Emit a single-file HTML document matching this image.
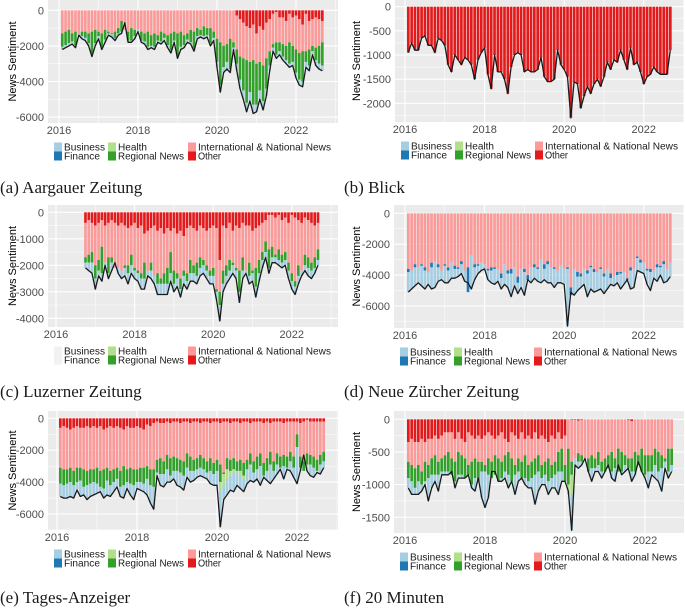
<!DOCTYPE html>
<html><head><meta charset="utf-8"><style>
body{margin:0;background:#fff;width:685px;height:608px;overflow:hidden}
svg{display:block;font-family:"Liberation Sans",sans-serif}
</style></head><body>
<svg id="fig" width="685" height="608" viewBox="0 0 685 608" xmlns="http://www.w3.org/2000/svg"></svg>
<script>
// ---------- Panel (a) Aargauer Zeitung : Feb 2016 - Sep 2022 ----------
const aOtherEnd=[0,0,0,0,0,0,0,0,0,0,0, 0,0,0,0,0,0,0,0,0,0,0,0, 0,0,0,0,0,0,0,0,0,0,0,0, 0,0,0,0,0,0,0,0,0,0,0,0, 0,0,0,0,0,0,300,500,700,900,1000,800, 1300,900,1100,700,500,200,100,400,400,600,200,400, 300,500,800,200,600,500,400,500,600];
const aIntlEnd=[1300,1200,1100,1300,1200,1300,1200,1200,1300,1200,1100, 1200,1300,1100,1200,1300,1200,1000,600,1100,1200,1000,1100, 1100,1200,1300,1200,1400,1300,1400,1200,1300,1400,1300,1200, 1300,1200,1400,1300,1100,1200,1000,1100,900,1000,1000,1200, 1600,1800,2000,1900,1600,1800,2200,2600,2700,2800,2900,2800, 3000,2900,3100,2700,2300,1900,1800,1800,1900,2000,1800,2000, 2200,2400,2300,2300,2200,2000,2100,2000,1800];
const aRegionalEnd=[2050,1950,1850,1750,1950,1300,1450,1550,1850,2450,1850, 1450,2050,1650,1300,1350,1550,1300,1200,650,1700,1700,1450, 1100,1700,1750,2050,2000,2050,1700,1750,1550,1950,2250,1700, 2550,2050,1950,1650,1800,2150,1450,1400,1450,1400,1850,1550, 2900,4200,3200,2900,3300,2100,3000,3900,4500,5200,4600,5300, 5300,4500,5100,4400,3100,2100,2500,2300,2600,2800,3000,2900, 3500,3900,4000,2900,3100,2300,2800,3000,3100];
const aTotal=[2200,2100,2000,1900,2100,1400,1600,1700,2000,2600,2000, 1600,2200,1800,1400,1500,1700,1400,1300,700,1800,1800,1600, 1200,1800,1900,2200,2100,2200,1800,1900,1700,2100,2400,1800, 2700,2200,2100,1800,1900,2300,1600,1500,1600,1500,2000,1700, 3200,4600,3500,3300,3500,2200,3400,4400,5000,5700,5100,5800, 5700,5000,5600,4800,3400,2300,2700,2500,2800,3000,3200,3100, 3800,4200,4300,3200,3400,2500,3100,3300,3400];
// ---------- Panel (b) Blick ----------
const bTotal=[950,750,900,900,650,600,800,800,950,650,700, 800,1200,1350,1000,1100,1200,1050,1100,1200,1500,1100,950, 850,1400,1700,1000,1350,1350,1500,1800,1250,1000,950,1000, 1350,1300,1350,1350,1300,1050,1450,1550,1550,1500,900,1200, 1300,1450,2300,1550,1600,2100,1850,1650,1800,1600,1500,1650, 1450,1150,1300,1100,1150,900,1100,1300,850,1200,1150,1350, 1600,1450,1400,1250,1350,1400,1400,1400,900];
// ---------- Panel (c) Luzerner Zeitung : Oct 2016 - Sep 2022 ----------
const cOtherEnd=[400,300,400, 500,400,300,500,400,300,400,500,400,500,600,500, 400,600,500,800,700,600,500,700,600,800,600,700, 600,800,700,900,600,500,600,700,500,600,700,600, 500,600,1800,500,600,400,700,500,600,400,500,500, 700,600,500,400,300,100,100,200,100,300,200,400, 100,200,300,400,200,300,400,500,400];
const cIntlEnd=[1700,1600,1500, 2000,1800,1300,1900,1700,1700,2100,2100,2200,2000,2000,1600, 2100,2200,2300,1900,2200,1900,2400,2300,2500,2300,2100,1500, 2200,2300,2500,2200,2300,1800,2000,1900,1700,1800,2000,2200, 2100,2900,3000,2200,2000,1800,1900,2100,2200,1700,2200,1900, 2200,2100,1800,1500,1100,1400,1300,1600,1400,1600,1500,1900, 2300,2600,2000,2200,1600,1700,1900,1700,1400];
const cRegionalEnd=[1900,1900,1900, 2500,2200,2300,1900,2300,1900,1800,2100,2200,2100,2300,2000, 2200,2300,2500,2500,2100,2200,2300,2700,2700,2700,2700,2300, 2700,2500,2900,2400,2600,2300,2300,2400,2100,2000,2200,2400, 2400,3000,3500,2700,2400,2200,2000,2200,3000,2200,2000,2400, 2300,2800,2300,1800,1500,2100,1700,1700,1800,1900,1800,2200, 2600,2800,2400,2200,2000,2100,2200,2100,1800];
const cTotal=[2100,2200,2300, 2900,2400,2600,2000,2500,2200,1900,2300,2500,2400,2700,2300, 2500,2600,2900,2900,2400,2500,2700,3100,3100,3100,3100,2600, 3000,2800,3200,2700,2900,2600,2600,2700,2400,2300,2500,2700, 2700,3300,4100,3000,2700,2500,2300,2500,3400,2500,2300,2700, 2600,3200,2600,2100,1700,2300,1900,1900,2000,2100,2000,2500, 2900,3100,2700,2400,2200,2400,2500,2300,2000];
// ---------- Panel (d) Neue Zürcher Zeitung ----------
const dIntlEnd=[3600,3700,3300,3500,3300,3500,3800,3200,3100,3300,3700, 3300,3500,3200,3400,3500,3100,3700,3500,2700,3300,3300,3200, 3300,3600,3500,3500,3600,3900,3300,3700,3600,3500,4100,3600, 3600,4000,3500,3300,3500,3000,3300,3100,3500,3500,3700,3400, 3600,3500,4800,3600,3800,3900,3600,3700,3400,3600,3800,3500, 3900,3600,3900,4100,3800,3800,3800,4200,3500,3600,2800,3000, 3200,3600,3600,3700,3300,3400,3100,3600,3200];
const dFinance=[200,0,200,0,100,200,0,300,0,200,0, 100,200,0,200,100,200,0,1600,0,200,100,0, 0,100,200,100,0,300,0,200,300,0,400,0, 200,300,0,200,100,0,300,200,0,100,0,0, 0,100,500,0,300,200,0,200,100,200,0,100, 200,0,300,0,200,100,0,100,200,0,100,200, 0,100,200,0,200,100,200,0,0];
const dTotal=[5100,4900,4700,4500,4700,4900,4600,4900,4800,4400,4300, 4500,4500,4200,4200,4100,3900,4400,4500,4900,4300,3900,3700, 3600,4300,4500,4600,4400,4900,4600,4800,5400,4700,5200,4800, 5300,4300,4500,4200,4400,4500,4300,4500,4500,4800,4500,4500, 4600,7300,5100,5300,5000,4800,4600,5400,4900,5100,5000,4900, 5200,4900,4600,4700,4500,4900,4600,4300,4900,4800,3700,3800, 3900,4600,5000,4200,4400,4000,4500,4400,4100];
// ---------- Panel (e) Tages-Anzeiger ----------
const eOtherEnd=[600,500,600,700,600,500,600,600,500,600,500, 600,500,700,600,500,600,500,600,700,500,600,600, 500,600,700,400,500,300,200,300,300,200,300,200, 200,300,200,200,300,200,200,300,200,200,300,200, 200,300,200,200,300,200,200,300,200,200,300,200, 200,200,300,200,300,200,200,200,300,200,200,200, 200,300,200,100,200,200,200,200,200];
const eIntlEnd=[3100,3200,3200,3100,3300,3100,3100,3200,3300,3200,3200, 3100,3300,3200,3100,3300,3200,3100,3300,3000,3200,3100,3200, 3200,3100,3100,3000,3200,3200,2600,2500,2700,2300,2500,2400, 2500,2600,2700,2200,2400,2600,2500,2300,2500,2700,2500,2800, 2600,2900,3400,2500,2600,2500,2700,2600,2800,2600,2200,2700, 2400,2200,2800,2500,2100,2700,2200,2400,2300,2400,2100,2400, 1000,2400,2700,2200,2300,2400,2600,2300,2100];
const eRegionalEnd=[4100,4200,4100,4000,4200,4000,3900,4300,4200,4100,4000, 4100,4300,4400,3900,4200,4000,3800,4300,4200,4000,4100,4200, 4000,4000,4100,3800,4200,4300,3400,3500,3500,3200,3600,3300, 3300,3400,3600,3100,3300,3300,3200,3100,3200,3400,3300,3500, 3300,4000,3500,3200,3300,3200,3300,3300,3600,3200,2900,3400, 3200,3000,3600,3300,2900,3300,2900,3100,3000,3100,2700,3100, 1800,3100,3300,2900,2900,3100,3300,2900,2700];
const eHealth=[0,0,0,0,0,0,0,0,0,0,0, 0,0,0,0,0,0,0,0,0,0,0,0, 0,0,0,0,0,0,0,0,0,0,0,0, 0,0,0,0,0,0,0,0,0,0,0,0, 0,600,700,600,300,200,100,300,200,0,100,0, 0,0,0,0,0,0,0,0,0,0,0,0, 0,0,0,0,0,0,0,0,0];
const eTotal=[4900,5000,5000,4900,5000,4500,4900,4800,5100,4900,4800, 4700,4600,5000,4800,4900,4600,4300,4900,5000,4400,4800,5100, 4400,4500,4600,4800,5300,5700,3600,4200,4300,4000,4000,3800, 4200,4300,4500,3700,4000,3900,3700,3600,3700,3800,4100,4200, 4200,6800,5100,4800,4500,4600,4200,4400,4600,4100,3900,4000, 3800,4200,3700,3900,4100,3800,3500,3200,3800,3200,3300,3700, 4100,3300,2300,3300,3600,3700,3400,3500,3100];
// ---------- Panel (f) 20 Minuten ----------
const fOtherEnd=[350,300,350,350,300,350,300,300,250,300,250, 200,200,200,300,200,300,350,200,250,300,250,300, 250,200,250,300,250,200,300,350,200,250,300,200, 300,250,300,200,300,250,300,350,250,300,200,300, 250,0,10,10,20,10,0,0,0,0,0,0, 0,0,0,0,0,0,0,10,30,0,0,0, 0,0,0,0,0,0,0,0,0];
const fIntlEnd=[650,700,750,700,800,650,700,600,550,650,600, 550,500,600,650,500,550,600,700,650,600,650,650, 700,600,650,550,600,650,550,500,600,700,600,650, 550,700,650,600,550,700,650,600,700,650,500,450, 700,450,650,600,520,550,600,600,550,600,500,650, 600,550,500,600,450,500,550,600,600,500,550,450, 550,550,550,450,500,550,600,450,450];
const fRegionalEnd=[900,950,1050,950,1000,950,900,850,850,850,800, 800,800,850,950,850,850,900,850,1000,900,950,800, 800,850,900,850,950,900,800,850,950,850,800,900, 900,950,900,850,800,900,850,950,900,850,800,800, 950,1000,850,600,650,650,600,800,750,750,700,800, 800,750,800,750,800,800,700,750,800,800,700,800, 850,800,800,700,800,750,650,800,700];
const fHealth=[0,0,0,0,0,0,0,0,0,0,0, 0,0,0,0,0,0,0,0,0,0,0,0, 0,0,0,0,0,0,0,0,0,0,0,0, 0,0,0,0,0,0,0,0,0,0,0,0, 0,150,300,0,0,0,0,0,0,0,0,0, 0,0,0,0,0,0,0,0,0,0,0,0, 0,0,0,0,0,0,0,0,0];
const fTotal=[1050,1150,1150,1150,1100,1000,1250,1050,950,1100,850, 850,850,800,1050,900,900,900,850,1050,1100,900,1200, 1350,1200,800,800,950,950,900,1050,950,1150,950,900, 1000,1050,1050,1300,1100,1000,1000,1150,1050,1050,1150,950, 950,1100,1700,700,750,700,600,800,950,800,800,900, 800,700,900,950,700,850,800,750,950,850,650,800, 900,1050,850,900,950,1100,750,900,800];

const yTicksA=[0,-2000,-4000,-6000], yTicksB=[0,-500,-1000,-1500,-2000], yTicksC=[0,-1000,-2000,-3000,-4000];
const yTicksF=[0,-500,-1000,-1500];
const xTickYears=[2016,2018,2020,2022];
const legendLabels=[["Business","Finance"],["Health","Regional News"],["International & National News","Other"]];

const COL={business:"#a6cee3",finance:"#1f78b4",health:"#b2df8a",regional:"#33a02c",intl:"#fb9a99",other:"#e31a1c"};
const NS="http://www.w3.org/2000/svg";
const svg=document.getElementById('fig');
function mk(tag,attrs,parent){const e=document.createElementNS(NS,tag);for(const k in attrs)e.setAttribute(k,attrs[k]);(parent||svg).appendChild(e);return e;}

const panels=[
 {id:"a",title:"(a) Aargauer Zeitung",bx:48,by:0,bw:290,bh:123,x0:59,pxYr:39.5,y0:10.3,pxK:17.8,ticks:yTicksA,start:0,titleX:12,capY:193,
  top:[["other",aOtherEnd],["intl",aIntlEnd],["regional",aRegionalEnd]],bot:[],total:aTotal,bizLegend:true},
 {id:"b",title:"(b) Blick",bx:395,by:0,bw:289,bh:122,x0:405,pxYr:39.8,y0:6.7,pxK:48.3,ticks:yTicksB,start:0,titleX:356,capY:193,
  top:[["other",bTotal]],bot:[],total:bTotal,bizLegend:true},
 {id:"c",title:"(c) Luzerner Zeitung",bx:48,by:205,bw:290,bh:122,x0:56,pxYr:39.3,y0:212.3,pxK:26.5,ticks:yTicksC,start:8,titleX:12,capY:397,
  top:[["other",cOtherEnd],["intl",cIntlEnd],["regional",cRegionalEnd]],bot:[],total:cTotal,bizLegend:false},
 {id:"d",title:"(d) Neue Zürcher Zeitung",bx:394,by:205,bw:290,bh:123,x0:405,pxYr:39.8,y0:213.3,pxK:15.45,ticks:yTicksA,start:0,titleX:356,capY:397,
  top:[["intl",dIntlEnd]],bot:[["finance",dFinance]],total:dTotal,bizLegend:true},
 {id:"e",title:"(e) Tages-Anzeiger",bx:48,by:411,bw:290,bh:119,x0:57,pxYr:40,y0:418.3,pxK:15.95,ticks:yTicksA,start:0,titleX:12,capY:603,
  top:[["other",eOtherEnd],["intl",eIntlEnd],["regional",eRegionalEnd]],bot:[["health",eHealth]],total:eTotal,bizLegend:true},
 {id:"f",title:"(f) 20 Minuten",bx:394,by:411,bw:290,bh:122,x0:405,pxYr:40,y0:419.3,pxK:65.3,ticks:yTicksF,start:0,titleX:356,capY:603,
  top:[["other",fOtherEnd],["intl",fIntlEnd],["regional",fRegionalEnd]],bot:[["health",fHealth]],total:fTotal,bizLegend:true}
];

panels.forEach(p=>{
 const g=mk('g',{});
 
 
 const xs=t=>p.x0+(t-2016)*p.pxYr;
 const ys=m=>p.y0+m*p.pxK/1000; // m = magnitude of negative sentiment (downward)
 const bg=mk('rect',{x:p.bx,y:p.by,width:p.bw,height:p.bh,fill:"#ebebeb"},g);
 
 
 for(let yr=2015;yr<=2024;yr+=2){const x=xs(yr);if(x>p.bx&&x<p.bx+p.bw)mk('line',{x1:x,x2:x,y1:p.by,y2:p.by+p.bh,stroke:"#fff","stroke-width":0.5},g);}
 const step=p.ticks[0]-p.ticks[1];
 for(let k=-1;k<p.ticks.length+1;k++){const m=step*(k+0.5);const y=ys(m);if(y>p.by&&y<p.by+p.bh)mk('line',{x1:p.bx,x2:p.bx+p.bw,y1:y,y2:y,stroke:"#fff","stroke-width":0.5},g);}
 p.ticks.forEach(v=>{const y=ys(-v);mk('line',{x1:p.bx,x2:p.bx+p.bw,y1:y,y2:y,stroke:"#fff","stroke-width":1.1},g);
  const t=mk('text',{x:p.bx-4,y:y+4,"text-anchor":"end","font-size":11,fill:"#4d4d4d"},g);t.textContent=String(v);
  
  });
 xTickYears.forEach(yr=>{const x=xs(yr);mk('line',{x1:x,x2:x,y1:p.by,y2:p.by+p.bh,stroke:"#fff","stroke-width":1.1},g);
  const t=mk('text',{x:x,y:p.by+p.bh+11,"text-anchor":"middle","font-size":11,fill:"#4d4d4d"},g);t.textContent=yr;
  
  });
 const n=p.total.length, mw=p.pxYr/12, bw=mw*0.8;
 const pts=[];
 for(let i=0;i<n;i++){
  const t=2016+(p.start+i+1)/12;
  const cx=xs(t);
  let prev=0;
  p.top.forEach(([name,arr])=>{const end=arr[i];if(end>prev){const r=mk('rect',{x:cx-bw/2,y:ys(prev),width:bw,height:ys(end)-ys(prev),fill:COL[name]},g);
    
    }prev=Math.max(prev,end);});
  let cur=prev;
  p.bot.forEach(([name,arr])=>{const h=arr[i];if(h>0){const r=mk('rect',{x:cx-bw/2,y:ys(cur),width:bw,height:ys(cur+h)-ys(cur),fill:COL[name]},g);
    
    cur+=h;}});
  if(p.total[i]>cur){const r=mk('rect',{x:cx-bw/2,y:ys(cur),width:bw,height:ys(p.total[i])-ys(cur),fill:COL.business},g);
   
   }
  pts.push(cx.toFixed(1)+','+ys(p.total[i]).toFixed(1));
 }
 const line=mk('polyline',{points:pts.join(' '),fill:"none",stroke:"#1a1a1a","stroke-width":1.3,"stroke-linejoin":"round"},g);
 
 
 const cy=p.by+p.bh/2;
 const yt=mk('text',{x:p.titleX,y:cy,"text-anchor":"middle","font-size":11,fill:"#000",transform:`rotate(-90 ${p.titleX} ${cy})`,dy:"4"},g);
 yt.textContent="News Sentiment";
 
 
 const lg=mk('g',{},g);
 
 
 const colsX=[6,60,140], rowY=[p.by+p.bh+24,p.by+p.bh+33];
 const lens=[[41,36],[29,66],[133,23]];
 const keys=[["business","finance"],["health","regional"],["intl","other"]];
 legendLabels.forEach((col,ci)=>col.forEach((lab,ri)=>{
  const lx=p.bx+colsX[ci], ly=rowY[ri];
  const key=keys[ci][ri];
  const faded=(!p.bizLegend && ci===0);
  const sw=mk('rect',{x:lx,y:ly-4.5,width:8,height:9,fill:faded?"#f2f2f2":COL[key]},lg);
  
  
  const t=mk('text',{x:lx+10,y:ly+3.5,"font-size":10.5,fill:"#1a1a1a",textLength:lens[ci][ri],lengthAdjust:"spacingAndGlyphs"},lg);t.textContent=lab;
  
  
 }));
 const cap=mk('text',{x:p.bx<100?0:344,y:p.capY,"font-size":17,fill:"#1a1a1a","font-family":"Liberation Serif, serif"},g);
 cap.textContent=p.title;
 
 
});
</script>
</body></html>
